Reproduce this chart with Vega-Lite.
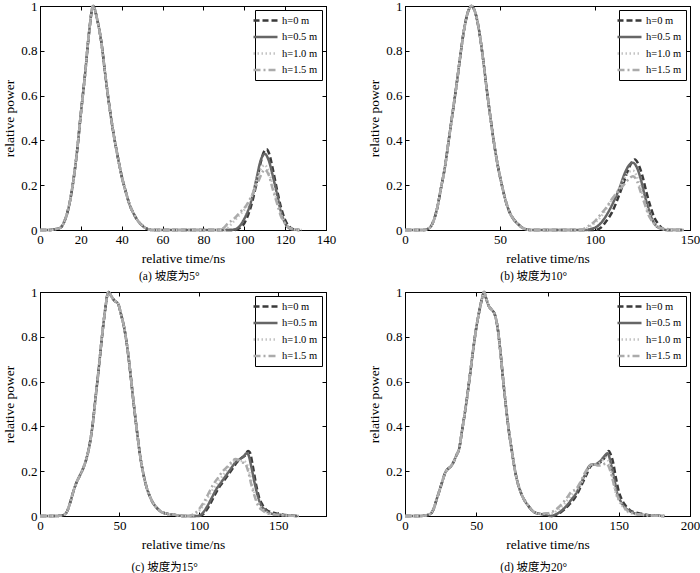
{
"$schema":"https://vega.github.io/schema/vega-lite/v6.json",
"padding":{"left":2,"top":-1,"right":0,"bottom":0},
"config":{
 "font":"Liberation Serif",
 "view":{"stroke":"black","strokeWidth":1},
 "axis":{"grid":false,"domainColor":"black","tickColor":"black","tickSize":-4,"labelPadding":7,"labelFont":"Liberation Serif","labelFontSize":13,"labelColor":"black","titleFont":"Liberation Serif","titleFontSize":13.5,"titleFontWeight":"normal","titleColor":"black","minExtent":0},
 "axisX":{"labelFlush":false,"labelPadding":7.5,"titlePadding":4.5},
 "axisY":{"titlePadding":4},
 "title":{"font":"Liberation Serif, Noto Sans CJK SC","fontSize":11.5,"fontWeight":"normal","color":"black","orient":"bottom","anchor":"middle","frame":"bounds","offset":6},
 "legend":{"orient":"top-right","offset":4,"padding":4,"strokeColor":"black","fillColor":"white","cornerRadius":0,"labelFont":"Liberation Serif","labelFontSize":10.5,"labelColor":"black","symbolType":"M-2.4,0H2.4","symbolSize":100,"symbolStrokeWidth":2.5,"rowPadding":4.5,"labelOffset":10,"title":null},
 "line":{"strokeWidth":2.5,"interpolate":"monotone"}
},
"datasets":{
"a":[
{"h":"h=0 m","t":0,"v":0},{"h":"h=0 m","t":5,"v":0},{"h":"h=0 m","t":8,"v":0.005},{"h":"h=0 m","t":10,"v":0.01},{"h":"h=0 m","t":12,"v":0.04},{"h":"h=0 m","t":14,"v":0.1},{"h":"h=0 m","t":16,"v":0.2},{"h":"h=0 m","t":18,"v":0.34},{"h":"h=0 m","t":20,"v":0.52},{"h":"h=0 m","t":22,"v":0.69},{"h":"h=0 m","t":24,"v":0.88},{"h":"h=0 m","t":26,"v":1.0},{"h":"h=0 m","t":28,"v":0.94},{"h":"h=0 m","t":30,"v":0.84},{"h":"h=0 m","t":32,"v":0.69},{"h":"h=0 m","t":34,"v":0.55},{"h":"h=0 m","t":36,"v":0.43},{"h":"h=0 m","t":38,"v":0.33},{"h":"h=0 m","t":40,"v":0.24},{"h":"h=0 m","t":42,"v":0.17},{"h":"h=0 m","t":44,"v":0.11},{"h":"h=0 m","t":46,"v":0.07},{"h":"h=0 m","t":48,"v":0.04},{"h":"h=0 m","t":50,"v":0.02},{"h":"h=0 m","t":52,"v":0.007},{"h":"h=0 m","t":55,"v":0},{"h":"h=0 m","t":70,"v":0},{"h":"h=0 m","t":85,"v":0},
{"h":"h=0 m","t":95,"v":0},{"h":"h=0 m","t":98,"v":0.01},{"h":"h=0 m","t":100,"v":0.03},{"h":"h=0 m","t":102,"v":0.07},{"h":"h=0 m","t":104,"v":0.13},{"h":"h=0 m","t":106,"v":0.21},{"h":"h=0 m","t":108,"v":0.3},{"h":"h=0 m","t":110,"v":0.355},{"h":"h=0 m","t":111,"v":0.36},{"h":"h=0 m","t":112,"v":0.345},{"h":"h=0 m","t":114,"v":0.27},{"h":"h=0 m","t":116,"v":0.18},{"h":"h=0 m","t":118,"v":0.1},{"h":"h=0 m","t":120,"v":0.045},{"h":"h=0 m","t":122,"v":0.015},{"h":"h=0 m","t":124,"v":0.003},{"h":"h=0 m","t":127,"v":0},
{"h":"h=0.5 m","t":0,"v":0},{"h":"h=0.5 m","t":5,"v":0},{"h":"h=0.5 m","t":8,"v":0.005},{"h":"h=0.5 m","t":10,"v":0.01},{"h":"h=0.5 m","t":12,"v":0.04},{"h":"h=0.5 m","t":14,"v":0.1},{"h":"h=0.5 m","t":16,"v":0.2},{"h":"h=0.5 m","t":18,"v":0.34},{"h":"h=0.5 m","t":20,"v":0.52},{"h":"h=0.5 m","t":22,"v":0.69},{"h":"h=0.5 m","t":24,"v":0.88},{"h":"h=0.5 m","t":26,"v":1.0},{"h":"h=0.5 m","t":28,"v":0.94},{"h":"h=0.5 m","t":30,"v":0.84},{"h":"h=0.5 m","t":32,"v":0.69},{"h":"h=0.5 m","t":34,"v":0.55},{"h":"h=0.5 m","t":36,"v":0.43},{"h":"h=0.5 m","t":38,"v":0.33},{"h":"h=0.5 m","t":40,"v":0.24},{"h":"h=0.5 m","t":42,"v":0.17},{"h":"h=0.5 m","t":44,"v":0.11},{"h":"h=0.5 m","t":46,"v":0.07},{"h":"h=0.5 m","t":48,"v":0.04},{"h":"h=0.5 m","t":50,"v":0.02},{"h":"h=0.5 m","t":52,"v":0.007},{"h":"h=0.5 m","t":55,"v":0},{"h":"h=0.5 m","t":70,"v":0},{"h":"h=0.5 m","t":85,"v":0},
{"h":"h=0.5 m","t":93,"v":0},{"h":"h=0.5 m","t":96,"v":0.005},{"h":"h=0.5 m","t":98,"v":0.02},{"h":"h=0.5 m","t":100,"v":0.05},{"h":"h=0.5 m","t":102,"v":0.09},{"h":"h=0.5 m","t":104,"v":0.15},{"h":"h=0.5 m","t":106,"v":0.23},{"h":"h=0.5 m","t":108,"v":0.31},{"h":"h=0.5 m","t":110,"v":0.34},{"h":"h=0.5 m","t":112,"v":0.31},{"h":"h=0.5 m","t":114,"v":0.24},{"h":"h=0.5 m","t":116,"v":0.16},{"h":"h=0.5 m","t":118,"v":0.08},{"h":"h=0.5 m","t":120,"v":0.03},{"h":"h=0.5 m","t":122,"v":0.008},{"h":"h=0.5 m","t":124,"v":0.002},{"h":"h=0.5 m","t":127,"v":0},
{"h":"h=1.0 m","t":0,"v":0},{"h":"h=1.0 m","t":5,"v":0},{"h":"h=1.0 m","t":8,"v":0.005},{"h":"h=1.0 m","t":10,"v":0.01},{"h":"h=1.0 m","t":12,"v":0.04},{"h":"h=1.0 m","t":14,"v":0.1},{"h":"h=1.0 m","t":16,"v":0.2},{"h":"h=1.0 m","t":18,"v":0.34},{"h":"h=1.0 m","t":20,"v":0.52},{"h":"h=1.0 m","t":22,"v":0.69},{"h":"h=1.0 m","t":24,"v":0.88},{"h":"h=1.0 m","t":26,"v":1.0},{"h":"h=1.0 m","t":28,"v":0.94},{"h":"h=1.0 m","t":30,"v":0.84},{"h":"h=1.0 m","t":32,"v":0.69},{"h":"h=1.0 m","t":34,"v":0.55},{"h":"h=1.0 m","t":36,"v":0.43},{"h":"h=1.0 m","t":38,"v":0.33},{"h":"h=1.0 m","t":40,"v":0.24},{"h":"h=1.0 m","t":42,"v":0.17},{"h":"h=1.0 m","t":44,"v":0.11},{"h":"h=1.0 m","t":46,"v":0.07},{"h":"h=1.0 m","t":48,"v":0.04},{"h":"h=1.0 m","t":50,"v":0.02},{"h":"h=1.0 m","t":52,"v":0.007},{"h":"h=1.0 m","t":55,"v":0},{"h":"h=1.0 m","t":70,"v":0},{"h":"h=1.0 m","t":85,"v":0},
{"h":"h=1.0 m","t":90,"v":0},{"h":"h=1.0 m","t":92,"v":0.01},{"h":"h=1.0 m","t":94,"v":0.03},{"h":"h=1.0 m","t":96,"v":0.05},{"h":"h=1.0 m","t":98,"v":0.07},{"h":"h=1.0 m","t":100,"v":0.09},{"h":"h=1.0 m","t":102,"v":0.12},{"h":"h=1.0 m","t":104,"v":0.16},{"h":"h=1.0 m","t":106,"v":0.22},{"h":"h=1.0 m","t":108,"v":0.27},{"h":"h=1.0 m","t":110,"v":0.29},{"h":"h=1.0 m","t":112,"v":0.26},{"h":"h=1.0 m","t":114,"v":0.2},{"h":"h=1.0 m","t":116,"v":0.13},{"h":"h=1.0 m","t":118,"v":0.07},{"h":"h=1.0 m","t":120,"v":0.03},{"h":"h=1.0 m","t":122,"v":0.01},{"h":"h=1.0 m","t":125,"v":0.002},{"h":"h=1.0 m","t":128,"v":0},
{"h":"h=1.5 m","t":0,"v":0},{"h":"h=1.5 m","t":5,"v":0},{"h":"h=1.5 m","t":8,"v":0.005},{"h":"h=1.5 m","t":10,"v":0.01},{"h":"h=1.5 m","t":12,"v":0.04},{"h":"h=1.5 m","t":14,"v":0.1},{"h":"h=1.5 m","t":16,"v":0.2},{"h":"h=1.5 m","t":18,"v":0.34},{"h":"h=1.5 m","t":20,"v":0.52},{"h":"h=1.5 m","t":22,"v":0.69},{"h":"h=1.5 m","t":24,"v":0.88},{"h":"h=1.5 m","t":26,"v":1.0},{"h":"h=1.5 m","t":28,"v":0.94},{"h":"h=1.5 m","t":30,"v":0.84},{"h":"h=1.5 m","t":32,"v":0.69},{"h":"h=1.5 m","t":34,"v":0.55},{"h":"h=1.5 m","t":36,"v":0.43},{"h":"h=1.5 m","t":38,"v":0.33},{"h":"h=1.5 m","t":40,"v":0.24},{"h":"h=1.5 m","t":42,"v":0.17},{"h":"h=1.5 m","t":44,"v":0.11},{"h":"h=1.5 m","t":46,"v":0.07},{"h":"h=1.5 m","t":48,"v":0.04},{"h":"h=1.5 m","t":50,"v":0.02},{"h":"h=1.5 m","t":52,"v":0.007},{"h":"h=1.5 m","t":55,"v":0},{"h":"h=1.5 m","t":70,"v":0},{"h":"h=1.5 m","t":85,"v":0},
{"h":"h=1.5 m","t":88,"v":0},{"h":"h=1.5 m","t":90,"v":0.01},{"h":"h=1.5 m","t":92,"v":0.03},{"h":"h=1.5 m","t":95,"v":0.05},{"h":"h=1.5 m","t":98,"v":0.08},{"h":"h=1.5 m","t":101,"v":0.11},{"h":"h=1.5 m","t":104,"v":0.16},{"h":"h=1.5 m","t":107,"v":0.22},{"h":"h=1.5 m","t":109,"v":0.26},{"h":"h=1.5 m","t":110,"v":0.27},{"h":"h=1.5 m","t":112,"v":0.245},{"h":"h=1.5 m","t":114,"v":0.18},{"h":"h=1.5 m","t":116,"v":0.12},{"h":"h=1.5 m","t":118,"v":0.06},{"h":"h=1.5 m","t":120,"v":0.03},{"h":"h=1.5 m","t":122,"v":0.01},{"h":"h=1.5 m","t":124,"v":0.004},{"h":"h=1.5 m","t":128,"v":0}
],
"b":[
{"h":"h=0 m","t":0,"v":0},{"h":"h=0 m","t":10,"v":0},{"h":"h=0 m","t":13,"v":0.01},{"h":"h=0 m","t":15,"v":0.04},{"h":"h=0 m","t":17,"v":0.1},{"h":"h=0 m","t":19,"v":0.19},{"h":"h=0 m","t":21,"v":0.28},{"h":"h=0 m","t":23,"v":0.4},{"h":"h=0 m","t":25,"v":0.52},{"h":"h=0 m","t":27,"v":0.64},{"h":"h=0 m","t":29,"v":0.77},{"h":"h=0 m","t":31,"v":0.89},{"h":"h=0 m","t":33,"v":0.97},{"h":"h=0 m","t":35,"v":1.0},{"h":"h=0 m","t":37,"v":0.97},{"h":"h=0 m","t":39,"v":0.89},{"h":"h=0 m","t":41,"v":0.77},{"h":"h=0 m","t":43,"v":0.63},{"h":"h=0 m","t":45,"v":0.5},{"h":"h=0 m","t":47,"v":0.38},{"h":"h=0 m","t":49,"v":0.28},{"h":"h=0 m","t":51,"v":0.2},{"h":"h=0 m","t":53,"v":0.13},{"h":"h=0 m","t":55,"v":0.08},{"h":"h=0 m","t":57,"v":0.05},{"h":"h=0 m","t":59,"v":0.03},{"h":"h=0 m","t":61,"v":0.015},{"h":"h=0 m","t":63,"v":0.005},{"h":"h=0 m","t":66,"v":0},{"h":"h=0 m","t":80,"v":0},{"h":"h=0 m","t":90,"v":0},
{"h":"h=0 m","t":100,"v":0},{"h":"h=0 m","t":103,"v":0.01},{"h":"h=0 m","t":106,"v":0.04},{"h":"h=0 m","t":109,"v":0.08},{"h":"h=0 m","t":112,"v":0.14},{"h":"h=0 m","t":115,"v":0.21},{"h":"h=0 m","t":118,"v":0.28},{"h":"h=0 m","t":120,"v":0.31},{"h":"h=0 m","t":121,"v":0.315},{"h":"h=0 m","t":123,"v":0.29},{"h":"h=0 m","t":125,"v":0.24},{"h":"h=0 m","t":127,"v":0.17},{"h":"h=0 m","t":129,"v":0.11},{"h":"h=0 m","t":131,"v":0.06},{"h":"h=0 m","t":133,"v":0.03},{"h":"h=0 m","t":135,"v":0.01},{"h":"h=0 m","t":138,"v":0},{"h":"h=0 m","t":146,"v":0},
{"h":"h=0.5 m","t":0,"v":0},{"h":"h=0.5 m","t":10,"v":0},{"h":"h=0.5 m","t":13,"v":0.01},{"h":"h=0.5 m","t":15,"v":0.04},{"h":"h=0.5 m","t":17,"v":0.1},{"h":"h=0.5 m","t":19,"v":0.19},{"h":"h=0.5 m","t":21,"v":0.28},{"h":"h=0.5 m","t":23,"v":0.4},{"h":"h=0.5 m","t":25,"v":0.52},{"h":"h=0.5 m","t":27,"v":0.64},{"h":"h=0.5 m","t":29,"v":0.77},{"h":"h=0.5 m","t":31,"v":0.89},{"h":"h=0.5 m","t":33,"v":0.97},{"h":"h=0.5 m","t":35,"v":1.0},{"h":"h=0.5 m","t":37,"v":0.97},{"h":"h=0.5 m","t":39,"v":0.89},{"h":"h=0.5 m","t":41,"v":0.77},{"h":"h=0.5 m","t":43,"v":0.63},{"h":"h=0.5 m","t":45,"v":0.5},{"h":"h=0.5 m","t":47,"v":0.38},{"h":"h=0.5 m","t":49,"v":0.28},{"h":"h=0.5 m","t":51,"v":0.2},{"h":"h=0.5 m","t":53,"v":0.13},{"h":"h=0.5 m","t":55,"v":0.08},{"h":"h=0.5 m","t":57,"v":0.05},{"h":"h=0.5 m","t":59,"v":0.03},{"h":"h=0.5 m","t":61,"v":0.015},{"h":"h=0.5 m","t":63,"v":0.005},{"h":"h=0.5 m","t":66,"v":0},{"h":"h=0.5 m","t":80,"v":0},{"h":"h=0.5 m","t":90,"v":0},
{"h":"h=0.5 m","t":95,"v":0},{"h":"h=0.5 m","t":98,"v":0.005},{"h":"h=0.5 m","t":101,"v":0.015},{"h":"h=0.5 m","t":104,"v":0.04},{"h":"h=0.5 m","t":107,"v":0.08},{"h":"h=0.5 m","t":110,"v":0.13},{"h":"h=0.5 m","t":113,"v":0.19},{"h":"h=0.5 m","t":116,"v":0.26},{"h":"h=0.5 m","t":118,"v":0.29},{"h":"h=0.5 m","t":120,"v":0.3},{"h":"h=0.5 m","t":122,"v":0.28},{"h":"h=0.5 m","t":124,"v":0.23},{"h":"h=0.5 m","t":126,"v":0.16},{"h":"h=0.5 m","t":128,"v":0.1},{"h":"h=0.5 m","t":130,"v":0.05},{"h":"h=0.5 m","t":132,"v":0.02},{"h":"h=0.5 m","t":135,"v":0.005},{"h":"h=0.5 m","t":138,"v":0},{"h":"h=0.5 m","t":146,"v":0},
{"h":"h=1.0 m","t":0,"v":0},{"h":"h=1.0 m","t":10,"v":0},{"h":"h=1.0 m","t":13,"v":0.01},{"h":"h=1.0 m","t":15,"v":0.04},{"h":"h=1.0 m","t":17,"v":0.1},{"h":"h=1.0 m","t":19,"v":0.19},{"h":"h=1.0 m","t":21,"v":0.28},{"h":"h=1.0 m","t":23,"v":0.4},{"h":"h=1.0 m","t":25,"v":0.52},{"h":"h=1.0 m","t":27,"v":0.64},{"h":"h=1.0 m","t":29,"v":0.77},{"h":"h=1.0 m","t":31,"v":0.89},{"h":"h=1.0 m","t":33,"v":0.97},{"h":"h=1.0 m","t":35,"v":1.0},{"h":"h=1.0 m","t":37,"v":0.97},{"h":"h=1.0 m","t":39,"v":0.89},{"h":"h=1.0 m","t":41,"v":0.77},{"h":"h=1.0 m","t":43,"v":0.63},{"h":"h=1.0 m","t":45,"v":0.5},{"h":"h=1.0 m","t":47,"v":0.38},{"h":"h=1.0 m","t":49,"v":0.28},{"h":"h=1.0 m","t":51,"v":0.2},{"h":"h=1.0 m","t":53,"v":0.13},{"h":"h=1.0 m","t":55,"v":0.08},{"h":"h=1.0 m","t":57,"v":0.05},{"h":"h=1.0 m","t":59,"v":0.03},{"h":"h=1.0 m","t":61,"v":0.015},{"h":"h=1.0 m","t":63,"v":0.005},{"h":"h=1.0 m","t":66,"v":0},{"h":"h=1.0 m","t":80,"v":0},{"h":"h=1.0 m","t":90,"v":0},
{"h":"h=1.0 m","t":93,"v":0},{"h":"h=1.0 m","t":95,"v":0.005},{"h":"h=1.0 m","t":98,"v":0.02},{"h":"h=1.0 m","t":101,"v":0.04},{"h":"h=1.0 m","t":104,"v":0.07},{"h":"h=1.0 m","t":107,"v":0.11},{"h":"h=1.0 m","t":110,"v":0.15},{"h":"h=1.0 m","t":113,"v":0.19},{"h":"h=1.0 m","t":116,"v":0.24},{"h":"h=1.0 m","t":118,"v":0.26},{"h":"h=1.0 m","t":120,"v":0.265},{"h":"h=1.0 m","t":122,"v":0.24},{"h":"h=1.0 m","t":124,"v":0.19},{"h":"h=1.0 m","t":126,"v":0.13},{"h":"h=1.0 m","t":128,"v":0.08},{"h":"h=1.0 m","t":130,"v":0.04},{"h":"h=1.0 m","t":132,"v":0.02},{"h":"h=1.0 m","t":135,"v":0.005},{"h":"h=1.0 m","t":140,"v":0},{"h":"h=1.0 m","t":146,"v":0},
{"h":"h=1.5 m","t":0,"v":0},{"h":"h=1.5 m","t":10,"v":0},{"h":"h=1.5 m","t":13,"v":0.01},{"h":"h=1.5 m","t":15,"v":0.04},{"h":"h=1.5 m","t":17,"v":0.1},{"h":"h=1.5 m","t":19,"v":0.19},{"h":"h=1.5 m","t":21,"v":0.28},{"h":"h=1.5 m","t":23,"v":0.4},{"h":"h=1.5 m","t":25,"v":0.52},{"h":"h=1.5 m","t":27,"v":0.64},{"h":"h=1.5 m","t":29,"v":0.77},{"h":"h=1.5 m","t":31,"v":0.89},{"h":"h=1.5 m","t":33,"v":0.97},{"h":"h=1.5 m","t":35,"v":1.0},{"h":"h=1.5 m","t":37,"v":0.97},{"h":"h=1.5 m","t":39,"v":0.89},{"h":"h=1.5 m","t":41,"v":0.77},{"h":"h=1.5 m","t":43,"v":0.63},{"h":"h=1.5 m","t":45,"v":0.5},{"h":"h=1.5 m","t":47,"v":0.38},{"h":"h=1.5 m","t":49,"v":0.28},{"h":"h=1.5 m","t":51,"v":0.2},{"h":"h=1.5 m","t":53,"v":0.13},{"h":"h=1.5 m","t":55,"v":0.08},{"h":"h=1.5 m","t":57,"v":0.05},{"h":"h=1.5 m","t":59,"v":0.03},{"h":"h=1.5 m","t":61,"v":0.015},{"h":"h=1.5 m","t":63,"v":0.005},{"h":"h=1.5 m","t":66,"v":0},{"h":"h=1.5 m","t":80,"v":0},{"h":"h=1.5 m","t":90,"v":0},
{"h":"h=1.5 m","t":92,"v":0},{"h":"h=1.5 m","t":94,"v":0.005},{"h":"h=1.5 m","t":97,"v":0.02},{"h":"h=1.5 m","t":100,"v":0.04},{"h":"h=1.5 m","t":103,"v":0.07},{"h":"h=1.5 m","t":106,"v":0.1},{"h":"h=1.5 m","t":109,"v":0.14},{"h":"h=1.5 m","t":111,"v":0.16},{"h":"h=1.5 m","t":113,"v":0.18},{"h":"h=1.5 m","t":116,"v":0.21},{"h":"h=1.5 m","t":118,"v":0.23},{"h":"h=1.5 m","t":120,"v":0.24},{"h":"h=1.5 m","t":122,"v":0.22},{"h":"h=1.5 m","t":124,"v":0.17},{"h":"h=1.5 m","t":126,"v":0.12},{"h":"h=1.5 m","t":128,"v":0.07},{"h":"h=1.5 m","t":130,"v":0.04},{"h":"h=1.5 m","t":133,"v":0.015},{"h":"h=1.5 m","t":137,"v":0.005},{"h":"h=1.5 m","t":147,"v":0}
],
"c":[
{"h":"h=0 m","t":0,"v":0},{"h":"h=0 m","t":10,"v":0},{"h":"h=0 m","t":15,"v":0.005},{"h":"h=0 m","t":17,"v":0.02},{"h":"h=0 m","t":19,"v":0.06},{"h":"h=0 m","t":21,"v":0.11},{"h":"h=0 m","t":23,"v":0.15},{"h":"h=0 m","t":25,"v":0.18},{"h":"h=0 m","t":27,"v":0.21},{"h":"h=0 m","t":29,"v":0.25},{"h":"h=0 m","t":31,"v":0.31},{"h":"h=0 m","t":33,"v":0.4},{"h":"h=0 m","t":35,"v":0.53},{"h":"h=0 m","t":37,"v":0.66},{"h":"h=0 m","t":39,"v":0.8},{"h":"h=0 m","t":41,"v":0.92},{"h":"h=0 m","t":43,"v":1.0},{"h":"h=0 m","t":45,"v":0.98},{"h":"h=0 m","t":47,"v":0.96},{"h":"h=0 m","t":49,"v":0.95},{"h":"h=0 m","t":51,"v":0.9},{"h":"h=0 m","t":53,"v":0.84},{"h":"h=0 m","t":55,"v":0.75},{"h":"h=0 m","t":57,"v":0.63},{"h":"h=0 m","t":59,"v":0.5},{"h":"h=0 m","t":61,"v":0.38},{"h":"h=0 m","t":63,"v":0.27},{"h":"h=0 m","t":65,"v":0.19},{"h":"h=0 m","t":67,"v":0.13},{"h":"h=0 m","t":69,"v":0.09},{"h":"h=0 m","t":71,"v":0.06},{"h":"h=0 m","t":73,"v":0.04},{"h":"h=0 m","t":76,"v":0.02},{"h":"h=0 m","t":80,"v":0.01},{"h":"h=0 m","t":85,"v":0.005},{"h":"h=0 m","t":90,"v":0},
{"h":"h=0 m","t":100,"v":0},{"h":"h=0 m","t":103,"v":0.01},{"h":"h=0 m","t":106,"v":0.04},{"h":"h=0 m","t":109,"v":0.08},{"h":"h=0 m","t":112,"v":0.12},{"h":"h=0 m","t":115,"v":0.15},{"h":"h=0 m","t":118,"v":0.18},{"h":"h=0 m","t":121,"v":0.21},{"h":"h=0 m","t":124,"v":0.24},{"h":"h=0 m","t":127,"v":0.26},{"h":"h=0 m","t":129,"v":0.27},{"h":"h=0 m","t":131,"v":0.29},{"h":"h=0 m","t":132,"v":0.285},{"h":"h=0 m","t":134,"v":0.22},{"h":"h=0 m","t":136,"v":0.14},{"h":"h=0 m","t":138,"v":0.08},{"h":"h=0 m","t":140,"v":0.05},{"h":"h=0 m","t":143,"v":0.025},{"h":"h=0 m","t":147,"v":0.015},{"h":"h=0 m","t":152,"v":0.007},{"h":"h=0 m","t":158,"v":0.002},{"h":"h=0 m","t":162,"v":0},
{"h":"h=0.5 m","t":0,"v":0},{"h":"h=0.5 m","t":10,"v":0},{"h":"h=0.5 m","t":15,"v":0.005},{"h":"h=0.5 m","t":17,"v":0.02},{"h":"h=0.5 m","t":19,"v":0.06},{"h":"h=0.5 m","t":21,"v":0.11},{"h":"h=0.5 m","t":23,"v":0.15},{"h":"h=0.5 m","t":25,"v":0.18},{"h":"h=0.5 m","t":27,"v":0.21},{"h":"h=0.5 m","t":29,"v":0.25},{"h":"h=0.5 m","t":31,"v":0.31},{"h":"h=0.5 m","t":33,"v":0.4},{"h":"h=0.5 m","t":35,"v":0.53},{"h":"h=0.5 m","t":37,"v":0.66},{"h":"h=0.5 m","t":39,"v":0.8},{"h":"h=0.5 m","t":41,"v":0.92},{"h":"h=0.5 m","t":43,"v":1.0},{"h":"h=0.5 m","t":45,"v":0.98},{"h":"h=0.5 m","t":47,"v":0.96},{"h":"h=0.5 m","t":49,"v":0.95},{"h":"h=0.5 m","t":51,"v":0.9},{"h":"h=0.5 m","t":53,"v":0.84},{"h":"h=0.5 m","t":55,"v":0.75},{"h":"h=0.5 m","t":57,"v":0.63},{"h":"h=0.5 m","t":59,"v":0.5},{"h":"h=0.5 m","t":61,"v":0.38},{"h":"h=0.5 m","t":63,"v":0.27},{"h":"h=0.5 m","t":65,"v":0.19},{"h":"h=0.5 m","t":67,"v":0.13},{"h":"h=0.5 m","t":69,"v":0.09},{"h":"h=0.5 m","t":71,"v":0.06},{"h":"h=0.5 m","t":73,"v":0.04},{"h":"h=0.5 m","t":76,"v":0.02},{"h":"h=0.5 m","t":80,"v":0.01},{"h":"h=0.5 m","t":85,"v":0.005},{"h":"h=0.5 m","t":90,"v":0},
{"h":"h=0.5 m","t":99,"v":0},{"h":"h=0.5 m","t":102,"v":0.01},{"h":"h=0.5 m","t":105,"v":0.04},{"h":"h=0.5 m","t":108,"v":0.08},{"h":"h=0.5 m","t":111,"v":0.12},{"h":"h=0.5 m","t":114,"v":0.15},{"h":"h=0.5 m","t":117,"v":0.18},{"h":"h=0.5 m","t":120,"v":0.21},{"h":"h=0.5 m","t":123,"v":0.24},{"h":"h=0.5 m","t":126,"v":0.255},{"h":"h=0.5 m","t":128,"v":0.265},{"h":"h=0.5 m","t":130,"v":0.28},{"h":"h=0.5 m","t":131,"v":0.275},{"h":"h=0.5 m","t":133,"v":0.22},{"h":"h=0.5 m","t":135,"v":0.15},{"h":"h=0.5 m","t":137,"v":0.09},{"h":"h=0.5 m","t":139,"v":0.05},{"h":"h=0.5 m","t":142,"v":0.025},{"h":"h=0.5 m","t":146,"v":0.01},{"h":"h=0.5 m","t":152,"v":0.005},{"h":"h=0.5 m","t":162,"v":0},
{"h":"h=1.0 m","t":0,"v":0},{"h":"h=1.0 m","t":10,"v":0},{"h":"h=1.0 m","t":15,"v":0.005},{"h":"h=1.0 m","t":17,"v":0.02},{"h":"h=1.0 m","t":19,"v":0.06},{"h":"h=1.0 m","t":21,"v":0.11},{"h":"h=1.0 m","t":23,"v":0.15},{"h":"h=1.0 m","t":25,"v":0.18},{"h":"h=1.0 m","t":27,"v":0.21},{"h":"h=1.0 m","t":29,"v":0.25},{"h":"h=1.0 m","t":31,"v":0.31},{"h":"h=1.0 m","t":33,"v":0.4},{"h":"h=1.0 m","t":35,"v":0.53},{"h":"h=1.0 m","t":37,"v":0.66},{"h":"h=1.0 m","t":39,"v":0.8},{"h":"h=1.0 m","t":41,"v":0.92},{"h":"h=1.0 m","t":43,"v":1.0},{"h":"h=1.0 m","t":45,"v":0.98},{"h":"h=1.0 m","t":47,"v":0.96},{"h":"h=1.0 m","t":49,"v":0.95},{"h":"h=1.0 m","t":51,"v":0.9},{"h":"h=1.0 m","t":53,"v":0.84},{"h":"h=1.0 m","t":55,"v":0.75},{"h":"h=1.0 m","t":57,"v":0.63},{"h":"h=1.0 m","t":59,"v":0.5},{"h":"h=1.0 m","t":61,"v":0.38},{"h":"h=1.0 m","t":63,"v":0.27},{"h":"h=1.0 m","t":65,"v":0.19},{"h":"h=1.0 m","t":67,"v":0.13},{"h":"h=1.0 m","t":69,"v":0.09},{"h":"h=1.0 m","t":71,"v":0.06},{"h":"h=1.0 m","t":73,"v":0.04},{"h":"h=1.0 m","t":76,"v":0.02},{"h":"h=1.0 m","t":80,"v":0.01},{"h":"h=1.0 m","t":85,"v":0.005},{"h":"h=1.0 m","t":90,"v":0},
{"h":"h=1.0 m","t":95,"v":0},{"h":"h=1.0 m","t":98,"v":0.01},{"h":"h=1.0 m","t":101,"v":0.03},{"h":"h=1.0 m","t":104,"v":0.06},{"h":"h=1.0 m","t":107,"v":0.1},{"h":"h=1.0 m","t":110,"v":0.13},{"h":"h=1.0 m","t":113,"v":0.16},{"h":"h=1.0 m","t":116,"v":0.19},{"h":"h=1.0 m","t":119,"v":0.22},{"h":"h=1.0 m","t":122,"v":0.245},{"h":"h=1.0 m","t":124,"v":0.25},{"h":"h=1.0 m","t":126,"v":0.245},{"h":"h=1.0 m","t":128,"v":0.245},{"h":"h=1.0 m","t":130,"v":0.235},{"h":"h=1.0 m","t":132,"v":0.19},{"h":"h=1.0 m","t":134,"v":0.13},{"h":"h=1.0 m","t":136,"v":0.08},{"h":"h=1.0 m","t":138,"v":0.05},{"h":"h=1.0 m","t":141,"v":0.025},{"h":"h=1.0 m","t":145,"v":0.01},{"h":"h=1.0 m","t":150,"v":0.005},{"h":"h=1.0 m","t":162,"v":0},
{"h":"h=1.5 m","t":0,"v":0},{"h":"h=1.5 m","t":10,"v":0},{"h":"h=1.5 m","t":15,"v":0.005},{"h":"h=1.5 m","t":17,"v":0.02},{"h":"h=1.5 m","t":19,"v":0.06},{"h":"h=1.5 m","t":21,"v":0.11},{"h":"h=1.5 m","t":23,"v":0.15},{"h":"h=1.5 m","t":25,"v":0.18},{"h":"h=1.5 m","t":27,"v":0.21},{"h":"h=1.5 m","t":29,"v":0.25},{"h":"h=1.5 m","t":31,"v":0.31},{"h":"h=1.5 m","t":33,"v":0.4},{"h":"h=1.5 m","t":35,"v":0.53},{"h":"h=1.5 m","t":37,"v":0.66},{"h":"h=1.5 m","t":39,"v":0.8},{"h":"h=1.5 m","t":41,"v":0.92},{"h":"h=1.5 m","t":43,"v":1.0},{"h":"h=1.5 m","t":45,"v":0.98},{"h":"h=1.5 m","t":47,"v":0.96},{"h":"h=1.5 m","t":49,"v":0.95},{"h":"h=1.5 m","t":51,"v":0.9},{"h":"h=1.5 m","t":53,"v":0.84},{"h":"h=1.5 m","t":55,"v":0.75},{"h":"h=1.5 m","t":57,"v":0.63},{"h":"h=1.5 m","t":59,"v":0.5},{"h":"h=1.5 m","t":61,"v":0.38},{"h":"h=1.5 m","t":63,"v":0.27},{"h":"h=1.5 m","t":65,"v":0.19},{"h":"h=1.5 m","t":67,"v":0.13},{"h":"h=1.5 m","t":69,"v":0.09},{"h":"h=1.5 m","t":71,"v":0.06},{"h":"h=1.5 m","t":73,"v":0.04},{"h":"h=1.5 m","t":76,"v":0.02},{"h":"h=1.5 m","t":80,"v":0.01},{"h":"h=1.5 m","t":85,"v":0.005},{"h":"h=1.5 m","t":90,"v":0},
{"h":"h=1.5 m","t":94,"v":0},{"h":"h=1.5 m","t":97,"v":0.01},{"h":"h=1.5 m","t":100,"v":0.03},{"h":"h=1.5 m","t":103,"v":0.06},{"h":"h=1.5 m","t":106,"v":0.1},{"h":"h=1.5 m","t":109,"v":0.14},{"h":"h=1.5 m","t":112,"v":0.17},{"h":"h=1.5 m","t":115,"v":0.2},{"h":"h=1.5 m","t":118,"v":0.22},{"h":"h=1.5 m","t":121,"v":0.245},{"h":"h=1.5 m","t":123,"v":0.255},{"h":"h=1.5 m","t":125,"v":0.25},{"h":"h=1.5 m","t":127,"v":0.24},{"h":"h=1.5 m","t":129,"v":0.235},{"h":"h=1.5 m","t":131,"v":0.2},{"h":"h=1.5 m","t":133,"v":0.14},{"h":"h=1.5 m","t":135,"v":0.09},{"h":"h=1.5 m","t":137,"v":0.05},{"h":"h=1.5 m","t":140,"v":0.025},{"h":"h=1.5 m","t":144,"v":0.01},{"h":"h=1.5 m","t":150,"v":0.005},{"h":"h=1.5 m","t":163,"v":0}
],
"d":[
{"h":"h=0 m","t":0,"v":0},{"h":"h=0 m","t":10,"v":0},{"h":"h=0 m","t":15,"v":0.003},{"h":"h=0 m","t":18,"v":0.01},{"h":"h=0 m","t":20,"v":0.03},{"h":"h=0 m","t":22,"v":0.07},{"h":"h=0 m","t":24,"v":0.11},{"h":"h=0 m","t":26,"v":0.15},{"h":"h=0 m","t":28,"v":0.19},{"h":"h=0 m","t":30,"v":0.21},{"h":"h=0 m","t":32,"v":0.22},{"h":"h=0 m","t":34,"v":0.24},{"h":"h=0 m","t":36,"v":0.27},{"h":"h=0 m","t":38,"v":0.3},{"h":"h=0 m","t":40,"v":0.38},{"h":"h=0 m","t":42,"v":0.46},{"h":"h=0 m","t":44,"v":0.55},{"h":"h=0 m","t":46,"v":0.65},{"h":"h=0 m","t":48,"v":0.75},{"h":"h=0 m","t":50,"v":0.84},{"h":"h=0 m","t":52,"v":0.91},{"h":"h=0 m","t":54,"v":0.97},{"h":"h=0 m","t":55.5,"v":1.0},{"h":"h=0 m","t":57,"v":0.97},{"h":"h=0 m","t":59,"v":0.935},{"h":"h=0 m","t":61,"v":0.92},{"h":"h=0 m","t":63,"v":0.9},{"h":"h=0 m","t":65,"v":0.84},{"h":"h=0 m","t":67,"v":0.73},{"h":"h=0 m","t":69,"v":0.6},{"h":"h=0 m","t":71,"v":0.48},{"h":"h=0 m","t":73,"v":0.375},{"h":"h=0 m","t":75,"v":0.29},{"h":"h=0 m","t":77,"v":0.21},{"h":"h=0 m","t":79,"v":0.15},{"h":"h=0 m","t":81,"v":0.11},{"h":"h=0 m","t":83,"v":0.08},{"h":"h=0 m","t":86,"v":0.05},{"h":"h=0 m","t":90,"v":0.02},{"h":"h=0 m","t":94,"v":0.01},{"h":"h=0 m","t":100,"v":0.005},
{"h":"h=0 m","t":103,"v":0},{"h":"h=0 m","t":106,"v":0.005},{"h":"h=0 m","t":109,"v":0.015},{"h":"h=0 m","t":112,"v":0.03},{"h":"h=0 m","t":115,"v":0.05},{"h":"h=0 m","t":118,"v":0.07},{"h":"h=0 m","t":121,"v":0.1},{"h":"h=0 m","t":124,"v":0.14},{"h":"h=0 m","t":127,"v":0.18},{"h":"h=0 m","t":130,"v":0.22},{"h":"h=0 m","t":132,"v":0.23},{"h":"h=0 m","t":134,"v":0.23},{"h":"h=0 m","t":136,"v":0.235},{"h":"h=0 m","t":138,"v":0.245},{"h":"h=0 m","t":140,"v":0.26},{"h":"h=0 m","t":142,"v":0.285},{"h":"h=0 m","t":143,"v":0.29},{"h":"h=0 m","t":144,"v":0.28},{"h":"h=0 m","t":146,"v":0.24},{"h":"h=0 m","t":148,"v":0.17},{"h":"h=0 m","t":150,"v":0.11},{"h":"h=0 m","t":152,"v":0.075},{"h":"h=0 m","t":155,"v":0.045},{"h":"h=0 m","t":158,"v":0.025},{"h":"h=0 m","t":162,"v":0.015},{"h":"h=0 m","t":166,"v":0.01},{"h":"h=0 m","t":170,"v":0.005},{"h":"h=0 m","t":175,"v":0.002},{"h":"h=0 m","t":182,"v":0},
{"h":"h=0.5 m","t":0,"v":0},{"h":"h=0.5 m","t":10,"v":0},{"h":"h=0.5 m","t":15,"v":0.003},{"h":"h=0.5 m","t":18,"v":0.01},{"h":"h=0.5 m","t":20,"v":0.03},{"h":"h=0.5 m","t":22,"v":0.07},{"h":"h=0.5 m","t":24,"v":0.11},{"h":"h=0.5 m","t":26,"v":0.15},{"h":"h=0.5 m","t":28,"v":0.19},{"h":"h=0.5 m","t":30,"v":0.21},{"h":"h=0.5 m","t":32,"v":0.22},{"h":"h=0.5 m","t":34,"v":0.24},{"h":"h=0.5 m","t":36,"v":0.27},{"h":"h=0.5 m","t":38,"v":0.3},{"h":"h=0.5 m","t":40,"v":0.38},{"h":"h=0.5 m","t":42,"v":0.46},{"h":"h=0.5 m","t":44,"v":0.55},{"h":"h=0.5 m","t":46,"v":0.65},{"h":"h=0.5 m","t":48,"v":0.75},{"h":"h=0.5 m","t":50,"v":0.84},{"h":"h=0.5 m","t":52,"v":0.91},{"h":"h=0.5 m","t":54,"v":0.97},{"h":"h=0.5 m","t":55.5,"v":1.0},{"h":"h=0.5 m","t":57,"v":0.97},{"h":"h=0.5 m","t":59,"v":0.935},{"h":"h=0.5 m","t":61,"v":0.92},{"h":"h=0.5 m","t":63,"v":0.9},{"h":"h=0.5 m","t":65,"v":0.84},{"h":"h=0.5 m","t":67,"v":0.73},{"h":"h=0.5 m","t":69,"v":0.6},{"h":"h=0.5 m","t":71,"v":0.48},{"h":"h=0.5 m","t":73,"v":0.375},{"h":"h=0.5 m","t":75,"v":0.29},{"h":"h=0.5 m","t":77,"v":0.21},{"h":"h=0.5 m","t":79,"v":0.15},{"h":"h=0.5 m","t":81,"v":0.11},{"h":"h=0.5 m","t":83,"v":0.08},{"h":"h=0.5 m","t":86,"v":0.05},{"h":"h=0.5 m","t":90,"v":0.02},{"h":"h=0.5 m","t":94,"v":0.01},{"h":"h=0.5 m","t":100,"v":0.005},
{"h":"h=0.5 m","t":102,"v":0},{"h":"h=0.5 m","t":105,"v":0.005},{"h":"h=0.5 m","t":108,"v":0.015},{"h":"h=0.5 m","t":111,"v":0.03},{"h":"h=0.5 m","t":114,"v":0.05},{"h":"h=0.5 m","t":117,"v":0.075},{"h":"h=0.5 m","t":120,"v":0.1},{"h":"h=0.5 m","t":123,"v":0.14},{"h":"h=0.5 m","t":126,"v":0.18},{"h":"h=0.5 m","t":129,"v":0.22},{"h":"h=0.5 m","t":131,"v":0.23},{"h":"h=0.5 m","t":133,"v":0.23},{"h":"h=0.5 m","t":135,"v":0.235},{"h":"h=0.5 m","t":137,"v":0.245},{"h":"h=0.5 m","t":139,"v":0.26},{"h":"h=0.5 m","t":141,"v":0.275},{"h":"h=0.5 m","t":142,"v":0.28},{"h":"h=0.5 m","t":143,"v":0.27},{"h":"h=0.5 m","t":145,"v":0.22},{"h":"h=0.5 m","t":147,"v":0.16},{"h":"h=0.5 m","t":149,"v":0.1},{"h":"h=0.5 m","t":151,"v":0.07},{"h":"h=0.5 m","t":154,"v":0.04},{"h":"h=0.5 m","t":157,"v":0.025},{"h":"h=0.5 m","t":161,"v":0.012},{"h":"h=0.5 m","t":166,"v":0.006},{"h":"h=0.5 m","t":172,"v":0.003},{"h":"h=0.5 m","t":182,"v":0},
{"h":"h=1.0 m","t":0,"v":0},{"h":"h=1.0 m","t":10,"v":0},{"h":"h=1.0 m","t":15,"v":0.003},{"h":"h=1.0 m","t":18,"v":0.01},{"h":"h=1.0 m","t":20,"v":0.03},{"h":"h=1.0 m","t":22,"v":0.07},{"h":"h=1.0 m","t":24,"v":0.11},{"h":"h=1.0 m","t":26,"v":0.15},{"h":"h=1.0 m","t":28,"v":0.19},{"h":"h=1.0 m","t":30,"v":0.21},{"h":"h=1.0 m","t":32,"v":0.22},{"h":"h=1.0 m","t":34,"v":0.24},{"h":"h=1.0 m","t":36,"v":0.27},{"h":"h=1.0 m","t":38,"v":0.3},{"h":"h=1.0 m","t":40,"v":0.38},{"h":"h=1.0 m","t":42,"v":0.46},{"h":"h=1.0 m","t":44,"v":0.55},{"h":"h=1.0 m","t":46,"v":0.65},{"h":"h=1.0 m","t":48,"v":0.75},{"h":"h=1.0 m","t":50,"v":0.84},{"h":"h=1.0 m","t":52,"v":0.91},{"h":"h=1.0 m","t":54,"v":0.97},{"h":"h=1.0 m","t":55.5,"v":1.0},{"h":"h=1.0 m","t":57,"v":0.97},{"h":"h=1.0 m","t":59,"v":0.935},{"h":"h=1.0 m","t":61,"v":0.92},{"h":"h=1.0 m","t":63,"v":0.9},{"h":"h=1.0 m","t":65,"v":0.84},{"h":"h=1.0 m","t":67,"v":0.73},{"h":"h=1.0 m","t":69,"v":0.6},{"h":"h=1.0 m","t":71,"v":0.48},{"h":"h=1.0 m","t":73,"v":0.375},{"h":"h=1.0 m","t":75,"v":0.29},{"h":"h=1.0 m","t":77,"v":0.21},{"h":"h=1.0 m","t":79,"v":0.15},{"h":"h=1.0 m","t":81,"v":0.11},{"h":"h=1.0 m","t":83,"v":0.08},{"h":"h=1.0 m","t":86,"v":0.05},{"h":"h=1.0 m","t":90,"v":0.02},{"h":"h=1.0 m","t":94,"v":0.01},
{"h":"h=1.0 m","t":100,"v":0.01},{"h":"h=1.0 m","t":103,"v":0.012},{"h":"h=1.0 m","t":106,"v":0.02},{"h":"h=1.0 m","t":109,"v":0.035},{"h":"h=1.0 m","t":112,"v":0.055},{"h":"h=1.0 m","t":115,"v":0.08},{"h":"h=1.0 m","t":118,"v":0.1},{"h":"h=1.0 m","t":121,"v":0.12},{"h":"h=1.0 m","t":124,"v":0.15},{"h":"h=1.0 m","t":127,"v":0.19},{"h":"h=1.0 m","t":130,"v":0.225},{"h":"h=1.0 m","t":132,"v":0.23},{"h":"h=1.0 m","t":134,"v":0.23},{"h":"h=1.0 m","t":136,"v":0.235},{"h":"h=1.0 m","t":138,"v":0.245},{"h":"h=1.0 m","t":140,"v":0.255},{"h":"h=1.0 m","t":141,"v":0.26},{"h":"h=1.0 m","t":142,"v":0.255},{"h":"h=1.0 m","t":144,"v":0.22},{"h":"h=1.0 m","t":146,"v":0.16},{"h":"h=1.0 m","t":148,"v":0.1},{"h":"h=1.0 m","t":150,"v":0.07},{"h":"h=1.0 m","t":153,"v":0.04},{"h":"h=1.0 m","t":156,"v":0.02},{"h":"h=1.0 m","t":160,"v":0.01},{"h":"h=1.0 m","t":166,"v":0.005},{"h":"h=1.0 m","t":182,"v":0},
{"h":"h=1.5 m","t":0,"v":0},{"h":"h=1.5 m","t":10,"v":0},{"h":"h=1.5 m","t":15,"v":0.003},{"h":"h=1.5 m","t":18,"v":0.01},{"h":"h=1.5 m","t":20,"v":0.03},{"h":"h=1.5 m","t":22,"v":0.07},{"h":"h=1.5 m","t":24,"v":0.11},{"h":"h=1.5 m","t":26,"v":0.15},{"h":"h=1.5 m","t":28,"v":0.19},{"h":"h=1.5 m","t":30,"v":0.21},{"h":"h=1.5 m","t":32,"v":0.22},{"h":"h=1.5 m","t":34,"v":0.24},{"h":"h=1.5 m","t":36,"v":0.27},{"h":"h=1.5 m","t":38,"v":0.3},{"h":"h=1.5 m","t":40,"v":0.38},{"h":"h=1.5 m","t":42,"v":0.46},{"h":"h=1.5 m","t":44,"v":0.55},{"h":"h=1.5 m","t":46,"v":0.65},{"h":"h=1.5 m","t":48,"v":0.75},{"h":"h=1.5 m","t":50,"v":0.84},{"h":"h=1.5 m","t":52,"v":0.91},{"h":"h=1.5 m","t":54,"v":0.97},{"h":"h=1.5 m","t":55.5,"v":1.0},{"h":"h=1.5 m","t":57,"v":0.97},{"h":"h=1.5 m","t":59,"v":0.935},{"h":"h=1.5 m","t":61,"v":0.92},{"h":"h=1.5 m","t":63,"v":0.9},{"h":"h=1.5 m","t":65,"v":0.84},{"h":"h=1.5 m","t":67,"v":0.73},{"h":"h=1.5 m","t":69,"v":0.6},{"h":"h=1.5 m","t":71,"v":0.48},{"h":"h=1.5 m","t":73,"v":0.375},{"h":"h=1.5 m","t":75,"v":0.29},{"h":"h=1.5 m","t":77,"v":0.21},{"h":"h=1.5 m","t":79,"v":0.15},{"h":"h=1.5 m","t":81,"v":0.11},{"h":"h=1.5 m","t":83,"v":0.08},{"h":"h=1.5 m","t":86,"v":0.05},{"h":"h=1.5 m","t":90,"v":0.02},{"h":"h=1.5 m","t":94,"v":0.01},
{"h":"h=1.5 m","t":99,"v":0.012},{"h":"h=1.5 m","t":102,"v":0.015},{"h":"h=1.5 m","t":105,"v":0.025},{"h":"h=1.5 m","t":108,"v":0.04},{"h":"h=1.5 m","t":111,"v":0.06},{"h":"h=1.5 m","t":114,"v":0.085},{"h":"h=1.5 m","t":117,"v":0.11},{"h":"h=1.5 m","t":120,"v":0.12},{"h":"h=1.5 m","t":123,"v":0.15},{"h":"h=1.5 m","t":126,"v":0.19},{"h":"h=1.5 m","t":129,"v":0.22},{"h":"h=1.5 m","t":131,"v":0.23},{"h":"h=1.5 m","t":133,"v":0.23},{"h":"h=1.5 m","t":135,"v":0.225},{"h":"h=1.5 m","t":137,"v":0.225},{"h":"h=1.5 m","t":139,"v":0.23},{"h":"h=1.5 m","t":141,"v":0.235},{"h":"h=1.5 m","t":143,"v":0.22},{"h":"h=1.5 m","t":145,"v":0.18},{"h":"h=1.5 m","t":147,"v":0.13},{"h":"h=1.5 m","t":149,"v":0.09},{"h":"h=1.5 m","t":152,"v":0.055},{"h":"h=1.5 m","t":155,"v":0.03},{"h":"h=1.5 m","t":159,"v":0.015},{"h":"h=1.5 m","t":165,"v":0.007},{"h":"h=1.5 m","t":182,"v":0}
]
},
"columns":2,
"spacing":{"column":30,"row":2},
"resolve":{"scale":{"x":"independent","y":"independent"},"legend":{"color":"independent","strokeDash":"independent"}},
"concat":[
{"width":286,"height":224,"data":{"name":"a"},"title":"(a) 坡度为5°",
 "layer":[
  {"mark":{"type":"line"},"encoding":{
   "x":{"field":"t","type":"quantitative","scale":{"domain":[0,140],"nice":false,"zero":false},"axis":{"values":[0,20,40,60,80,100,120,140],"title":"relative time/ns"}},
   "y":{"field":"v","type":"quantitative","scale":{"domain":[0,1],"nice":false},"axis":{"values":[0,0.2,0.4,0.6,0.8,1],"format":"~g","title":"relative power"}},
   "color":{"field":"h","type":"nominal","scale":{"domain":["h=0 m","h=0.5 m","h=1.0 m","h=1.5 m"],"range":["#3a3a3a","#666666","#c4c4c4","#ababab"]},"legend":{"title":null}},
   "strokeDash":{"field":"h","type":"nominal","scale":{"domain":["h=0 m","h=0.5 m","h=1.0 m","h=1.5 m"],"range":[[6,3],[1,0],[1.5,2.5],[7,3,2,3]]},"legend":{"title":null}}
  }},
  {"mark":{"type":"line","strokeOpacity":0},"encoding":{
   "x":{"field":"t","type":"quantitative","scale":{"domain":[0,140],"nice":false,"zero":false},"axis":{"orient":"top","labels":false,"title":null,"values":[0,20,40,60,80,100,120,140],"maxExtent":0}},
   "y":{"field":"v","type":"quantitative","scale":{"domain":[0,1],"nice":false},"axis":{"orient":"right","labels":false,"title":null,"values":[0,0.2,0.4,0.6,0.8,1],"maxExtent":0}}
  }}
 ],
 "resolve":{"axis":{"x":"independent","y":"independent"}}
},
{"width":285,"height":224,"data":{"name":"b"},"title":"(b) 坡度为10°",
 "layer":[
  {"mark":{"type":"line"},"encoding":{
   "x":{"field":"t","type":"quantitative","scale":{"domain":[0,150],"nice":false,"zero":false},"axis":{"values":[0,50,100,150],"title":"relative time/ns"}},
   "y":{"field":"v","type":"quantitative","scale":{"domain":[0,1],"nice":false},"axis":{"values":[0,0.2,0.4,0.6,0.8,1],"format":"~g","title":"relative power"}},
   "color":{"field":"h","type":"nominal","scale":{"domain":["h=0 m","h=0.5 m","h=1.0 m","h=1.5 m"],"range":["#3a3a3a","#666666","#c4c4c4","#ababab"]},"legend":{"title":null}},
   "strokeDash":{"field":"h","type":"nominal","scale":{"domain":["h=0 m","h=0.5 m","h=1.0 m","h=1.5 m"],"range":[[6,3],[1,0],[1.5,2.5],[7,3,2,3]]},"legend":{"title":null}}
  }},
  {"mark":{"type":"line","strokeOpacity":0},"encoding":{
   "x":{"field":"t","type":"quantitative","scale":{"domain":[0,150],"nice":false,"zero":false},"axis":{"orient":"top","labels":false,"title":null,"values":[0,50,100,150],"maxExtent":0}},
   "y":{"field":"v","type":"quantitative","scale":{"domain":[0,1],"nice":false},"axis":{"orient":"right","labels":false,"title":null,"values":[0,0.2,0.4,0.6,0.8,1],"maxExtent":0}}
  }}
 ],
 "resolve":{"axis":{"x":"independent","y":"independent"}}
},
{"width":286,"height":224,"data":{"name":"c"},"title":{"text":"(c) 坡度为15°","offset":11},
 "layer":[
  {"mark":{"type":"line"},"encoding":{
   "x":{"field":"t","type":"quantitative","scale":{"domain":[0,180],"nice":false,"zero":false},"axis":{"values":[0,50,100,150],"title":"relative time/ns"}},
   "y":{"field":"v","type":"quantitative","scale":{"domain":[0,1],"nice":false},"axis":{"values":[0,0.2,0.4,0.6,0.8,1],"format":"~g","title":"relative power"}},
   "color":{"field":"h","type":"nominal","scale":{"domain":["h=0 m","h=0.5 m","h=1.0 m","h=1.5 m"],"range":["#3a3a3a","#666666","#c4c4c4","#ababab"]},"legend":{"title":null}},
   "strokeDash":{"field":"h","type":"nominal","scale":{"domain":["h=0 m","h=0.5 m","h=1.0 m","h=1.5 m"],"range":[[6,3],[1,0],[1.5,2.5],[7,3,2,3]]},"legend":{"title":null}}
  }},
  {"mark":{"type":"line","strokeOpacity":0},"encoding":{
   "x":{"field":"t","type":"quantitative","scale":{"domain":[0,180],"nice":false,"zero":false},"axis":{"orient":"top","labels":false,"title":null,"values":[0,50,100,150],"maxExtent":0}},
   "y":{"field":"v","type":"quantitative","scale":{"domain":[0,1],"nice":false},"axis":{"orient":"right","labels":false,"title":null,"values":[0,0.2,0.4,0.6,0.8,1],"maxExtent":0}}
  }}
 ],
 "resolve":{"axis":{"x":"independent","y":"independent"}}
},
{"width":285,"height":224,"data":{"name":"d"},"title":{"text":"(d) 坡度为20°","offset":11},
 "layer":[
  {"mark":{"type":"line"},"encoding":{
   "x":{"field":"t","type":"quantitative","scale":{"domain":[0,200],"nice":false,"zero":false},"axis":{"values":[0,50,100,150,200],"title":"relative time/ns"}},
   "y":{"field":"v","type":"quantitative","scale":{"domain":[0,1],"nice":false},"axis":{"values":[0,0.2,0.4,0.6,0.8,1],"format":"~g","title":"relative power"}},
   "color":{"field":"h","type":"nominal","scale":{"domain":["h=0 m","h=0.5 m","h=1.0 m","h=1.5 m"],"range":["#3a3a3a","#666666","#c4c4c4","#ababab"]},"legend":{"title":null}},
   "strokeDash":{"field":"h","type":"nominal","scale":{"domain":["h=0 m","h=0.5 m","h=1.0 m","h=1.5 m"],"range":[[6,3],[1,0],[1.5,2.5],[7,3,2,3]]},"legend":{"title":null}}
  }},
  {"mark":{"type":"line","strokeOpacity":0},"encoding":{
   "x":{"field":"t","type":"quantitative","scale":{"domain":[0,200],"nice":false,"zero":false},"axis":{"orient":"top","labels":false,"title":null,"values":[0,50,100,150,200],"maxExtent":0}},
   "y":{"field":"v","type":"quantitative","scale":{"domain":[0,1],"nice":false},"axis":{"orient":"right","labels":false,"title":null,"values":[0,0.2,0.4,0.6,0.8,1],"maxExtent":0}}
  }}
 ],
 "resolve":{"axis":{"x":"independent","y":"independent"}}
}
]
}
